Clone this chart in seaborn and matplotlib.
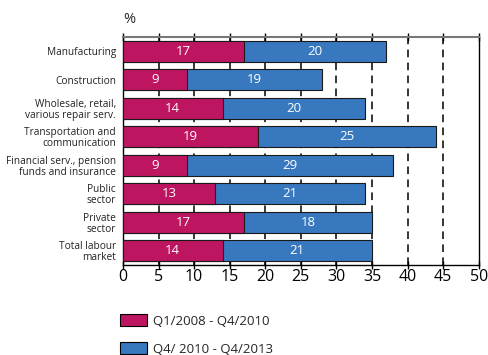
import matplotlib
matplotlib.use("Agg")
import matplotlib.pyplot as plt
import seaborn as sns
import pandas as pd
from matplotlib.patches import Patch

sectors = ['Manufacturing', 'Construction', 'Wholesale, retail,\nvarious repair serv.',
           'Transportation and\ncommunication', 'Financial serv., pension\nfunds and insurance',
           'Public\nsector', 'Private\nsector', 'Total labour\nmarket']
period1 = [17, 9, 14, 19, 9, 13, 17, 14]
period2 = [20, 19, 20, 25, 29, 21, 18, 21]
legend_labels = ['Q1/2008 - Q4/2010', 'Q4/ 2010 - Q4/2013']

c1 = '#BE1560'
c2 = '#3878BE'

sns.set_style('white')
plt.rcParams['font.family'] = ['Open Sans', 'DejaVu Sans']

df = pd.DataFrame({'sector': sectors, 'p1': period1, 'p2': period2})
df['total'] = df['p1'] + df['p2']

fig = plt.figure(figsize=(4.88, 3.55), dpi=100)
ax = fig.add_axes([0.252, 0.254, 0.729, 0.642])

# dashed grid behind bars
for v in range(5, 50, 5):
    ax.axvline(v, color='black', lw=1.1, ls=(0, (5, 3.5)), zorder=0)

sns.barplot(data=df, x='total', y='sector', color=c2, width=0.74, ax=ax,
            edgecolor='#1a1a1a', linewidth=0.8, saturation=1, zorder=2)
sns.barplot(data=df, x='p1', y='sector', color=c1, width=0.74, ax=ax,
            edgecolor='#1a1a1a', linewidth=0.8, saturation=1, zorder=3)

for i, (a, b) in enumerate(zip(period1, period2)):
    ax.text(a / 2, i, str(a), color='white', ha='center', va='center', fontsize=9.5, zorder=4)
    ax.text(a + b / 2, i, str(b), color='white', ha='center', va='center', fontsize=9.5, zorder=4)

ax.set_xlim(0, 50)
ax.set_ylim(7.5, -0.5)
ax.set_xticks(range(0, 51, 5))
ax.set_xlabel('')
ax.set_ylabel('')
ax.tick_params(axis='x', labelsize=11.5, top=True, bottom=True, direction='inout',
               length=6, width=1, colors='black', pad=0)
ax.tick_params(axis='y', labelsize=7.3, length=0, pad=5, colors='#222222')
for lab in ax.get_yticklabels():
    lab.set_linespacing(1.0)

for s in ['left', 'bottom', 'right']:
    ax.spines[s].set_color('black')
    ax.spines[s].set_linewidth(1)
ax.spines['top'].set_color('#777777')
ax.spines['top'].set_linewidth(1.5)

fig.text(0.252, 0.925, '%', fontsize=10.5, ha='left', va='bottom')

handles = [Patch(facecolor=c1, edgecolor='black', lw=0.8),
           Patch(facecolor=c2, edgecolor='black', lw=0.8)]
fig.legend(handles, legend_labels, loc='lower left', bbox_to_anchor=(0.222, -0.035),
           frameon=False, fontsize=9.5, handlelength=2.0, handleheight=1.0,
           labelspacing=1.1, handletextpad=0.45)

fig.savefig('out.png', dpi=100)
